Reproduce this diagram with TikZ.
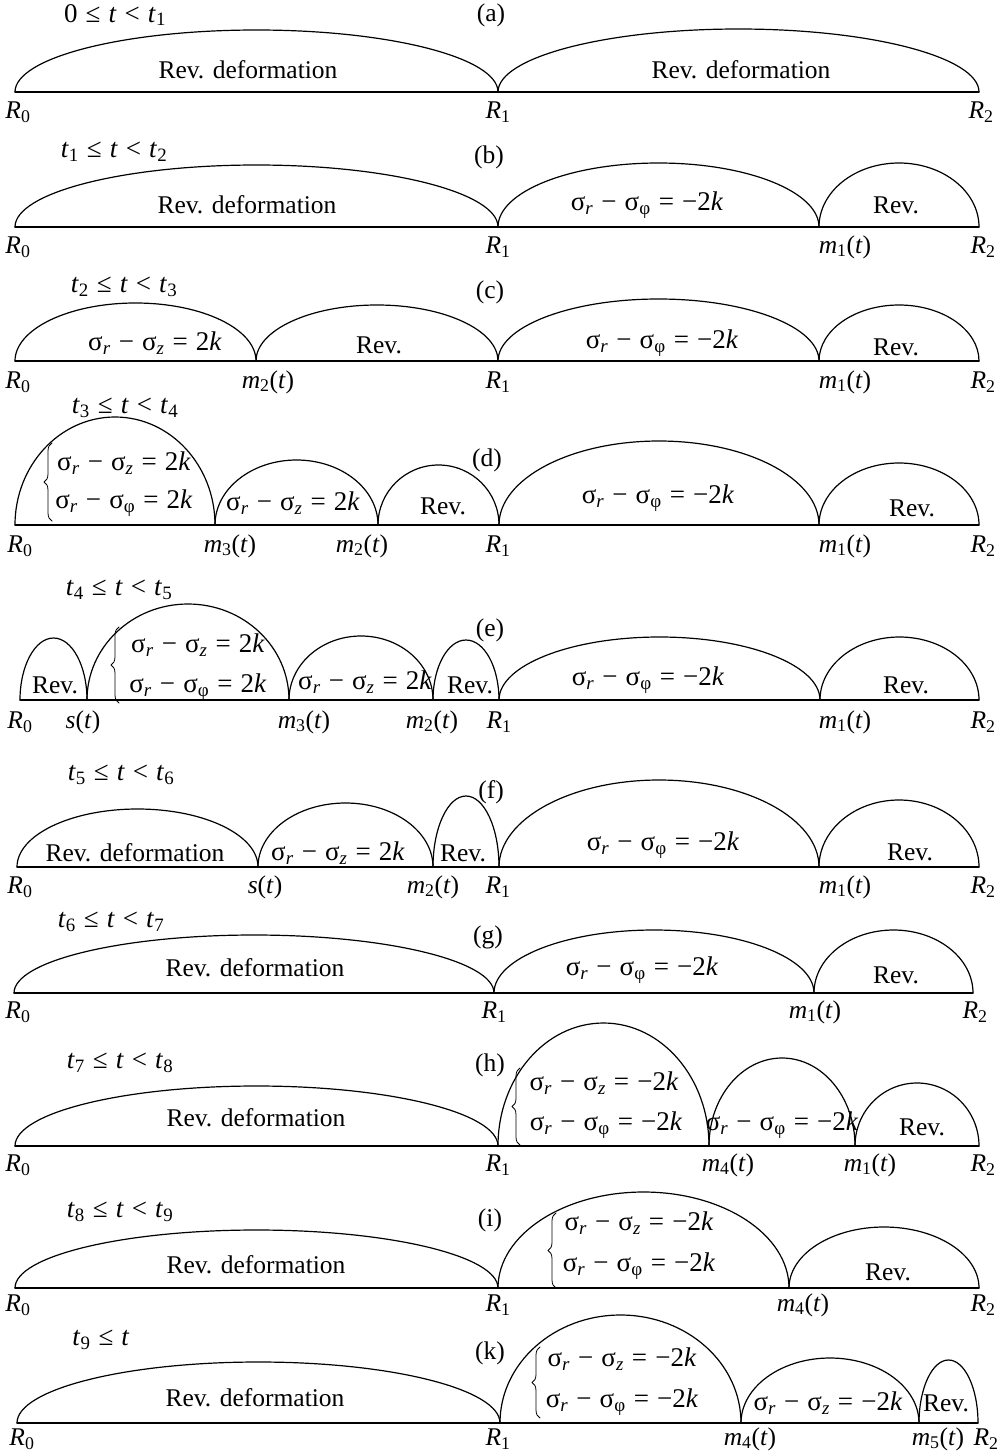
\documentclass[tikz,border=0pt]{standalone}
\usepackage{fontspec}
\setmainfont{Liberation Serif}
\usetikzlibrary{decorations.pathreplacing}

\newcommand{\gapsp}{\hspace{0.3em}}
\newcommand{\Rpt}[1]{\textit{R}\textsubscript{#1}}
\newcommand{\mpt}[1]{\textit{m}\textsubscript{#1}(\textit{t})}
\newcommand{\spt}{\textit{s}(\textit{t})}
\newcommand{\tsub}[1]{\textit{t}\textsubscript{#1}}
\newcommand{\sgm}[1]{σ\textsubscript{#1}}
\newcommand{\rz}[1]{\sgm{\textit{r}}\gapsp−\gapsp\sgm{\textit{z}}\gapsp=\gapsp#1\textit{k}}
\newcommand{\rphi}[1]{\sgm{\textit{r}}\gapsp−\gapsp\sgm{φ}\gapsp=\gapsp#1\textit{k}}
\newcommand{\tint}[2]{\tsub{#1}\gapsp≤\gapsp\textit{t}\gapsp<\gapsp\tsub{#2}}

\tikzset{
  arch/.style={line width=1.2pt},
  brace/.style={decorate, decoration={brace, amplitude=8pt}, line width=0.8pt},
  mth/.style={font=\fontsize{27}{32}\selectfont},
}

\begin{document}
\begin{tikzpicture}[
  x=1pt,
  y=-1pt,
  line cap=round,
  line join=round,
  every node/.style={inner sep=0pt, font=\fontsize{25.5}{30}\selectfont},
]
\useasboundingbox (0,0) rectangle (1005,1452);

% (a)
\draw[arch] (15,92) -- (979,92);
\foreach \xa/\xb/\ht in {15/498/62, 498/979/63}
  \draw[arch] (\xa,92) arc[start angle=180, end angle=0, x radius={(\xb-\xa)*0.5pt}, y radius={\ht*1pt}];
\node[mth] (atime) at (115,15) {0\gapsp≤\gapsp\textit{t}\gapsp<\gapsp\tsub{1}};
\node (atag) at (491,15) {(a)};
\node (arev1) at (248,70) {Rev. deformation};
\node (arev2) at (741,70) {Rev. deformation};
\node (aR0) at (18,112) {\Rpt{0}};
\node (aR1) at (498,112) {\Rpt{1}};
\node (aR2) at (981,112) {\Rpt{2}};

% (b)
\draw[arch] (15,227) -- (979,227);
\foreach \xa/\xb/\ht in {15/498/62, 498/819/64, 819/979/64}
  \draw[arch] (\xa,227) arc[start angle=180, end angle=0, x radius={(\xb-\xa)*0.5pt}, y radius={\ht*1pt}];
\node[mth] (btime) at (114,152) {\tint{1}{2}};
\node (btag) at (489,157) {(b)};
\node (brev1) at (247,205) {Rev. deformation};
\node[mth] (bphi) at (647,205) {\rphi{−2}};
\node (brev2) at (896,205) {Rev.};
\node (bR0) at (18,247) {\Rpt{0}};
\node (bR1) at (498,247) {\Rpt{1}};
\node (bm1) at (845,247) {\mpt{1}};
\node (bR2) at (983,247) {\Rpt{2}};

% (c)
\draw[arch] (15,361) -- (979,361);
\foreach \xa/\xb/\ht in {15/256/58, 256/498/56, 498/819/62, 819/979/56}
  \draw[arch] (\xa,361) arc[start angle=180, end angle=0, x radius={(\xb-\xa)*0.5pt}, y radius={\ht*1pt}];
\node[mth] (ctime) at (124,287) {\tint{2}{3}};
\node (ctag) at (490,292) {(c)};
\node[mth] (cz) at (155,343) {\rz{2}};
\node (crev1) at (379,345) {Rev.};
\node[mth] (cphi) at (662,343) {\rphi{−2}};
\node (crev2) at (896,347) {Rev.};
\node (cR0) at (18,382) {\Rpt{0}};
\node (cm2) at (268,382) {\mpt{2}};
\node (cR1) at (498,382) {\Rpt{1}};
\node (cm1) at (845,382) {\mpt{1}};
\node (cR2) at (983,382) {\Rpt{2}};

% (d)
\draw[arch] (15,525) -- (979,525);
\foreach \xa/\xb/\ht in {15/215/108, 215/378/65, 378/499/60, 499/819/84, 819/979/62}
  \draw[arch] (\xa,525) arc[start angle=180, end angle=0, x radius={(\xb-\xa)*0.5pt}, y radius={\ht*1pt}];
\draw[brace] (52,521) -- (52,443);
\node[mth] (dtime) at (125,408) {\tint{3}{4}};
\node (dtag) at (487,460) {(d)};
\node[mth] (dz1) at (124,463) {\rz{2}};
\node[mth] (dphi1) at (124,503) {\rphi{2}};
\node[mth] (dz2) at (293,503) {\rz{2}};
\node (drev1) at (443,506) {Rev.};
\node[mth] (dphi2) at (658,498) {\rphi{−2}};
\node (drev2) at (912,508) {Rev.};
\node (dR0) at (20,546) {\Rpt{0}};
\node (dm3) at (230,546) {\mpt{3}};
\node (dm2) at (362,546) {\mpt{2}};
\node (dR1) at (498,546) {\Rpt{1}};
\node (dm1) at (845,546) {\mpt{1}};
\node (dR2) at (983,546) {\Rpt{2}};

% (e)
\draw[arch] (20,700) -- (979,700);
\foreach \xa/\xb/\ht in {20/87/62, 87/289/96, 289/433/64, 433/499/60, 499/820/63, 820/979/63}
  \draw[arch] (\xa,700) arc[start angle=180, end angle=0, x radius={(\xb-\xa)*0.5pt}, y radius={\ht*1pt}];
\draw[brace] (119,703) -- (119,627);
\node[mth] (etime) at (119,590) {\tint{4}{5}};
\node (etag) at (490,630) {(e)};
\node (erev1) at (55,685) {Rev.};
\node[mth] (ez1) at (198,645) {\rz{2}};
\node[mth] (ephi1) at (198,687) {\rphi{2}};
\node[mth] (ez2) at (365,682) {\rz{2}};
\node (erev2) at (470,685) {Rev.};
\node[mth] (ephi2) at (648,680) {\rphi{−2}};
\node (erev3) at (906,685) {Rev.};
\node (eR0) at (20,722) {\Rpt{0}};
\node (es) at (83,722) {\spt};
\node (em3) at (304,722) {\mpt{3}};
\node (em2) at (432,722) {\mpt{2}};
\node (eR1) at (499,722) {\Rpt{1}};
\node (em1) at (845,722) {\mpt{1}};
\node (eR2) at (983,722) {\Rpt{2}};

% (f)
\draw[arch] (17,867) -- (979,867);
\foreach \xa/\xb/\ht in {17/258/58, 258/433/64, 433/499/71, 499/819/87, 819/979/67}
  \draw[arch] (\xa,867) arc[start angle=180, end angle=0, x radius={(\xb-\xa)*0.5pt}, y radius={\ht*1pt}];
\node[mth] (ftime) at (121,775) {\tint{5}{6}};
\node (ftag) at (491,792) {(f)};
\node (frev1) at (135,853) {Rev. deformation};
\node[mth] (fz) at (338,853) {\rz{2}};
\node (frev2) at (463,853) {Rev.};
\node[mth] (fphi) at (663,845) {\rphi{−2}};
\node (frev3) at (910,852) {Rev.};
\node (fR0) at (20,887) {\Rpt{0}};
\node (fs) at (265,887) {\spt};
\node (fm2) at (433,887) {\mpt{2}};
\node (fR1) at (498,887) {\Rpt{1}};
\node (fm1) at (845,887) {\mpt{1}};
\node (fR2) at (983,887) {\Rpt{2}};

% (g)
\draw[arch] (14,993) -- (973,993);
\foreach \xa/\xb/\ht in {14/494/58, 494/814/63, 814/973/63}
  \draw[arch] (\xa,993) arc[start angle=180, end angle=0, x radius={(\xb-\xa)*0.5pt}, y radius={\ht*1pt}];
\node[mth] (gtime) at (111,922) {\tint{6}{7}};
\node (gtag) at (488,937) {(g)};
\node (grev1) at (255,968) {Rev. deformation};
\node[mth] (gphi) at (642,970) {\rphi{−2}};
\node (grev2) at (896,975) {Rev.};
\node (gR0) at (18,1012) {\Rpt{0}};
\node (gR1) at (494,1012) {\Rpt{1}};
\node (gm1) at (815,1012) {\mpt{1}};
\node (gR2) at (975,1012) {\Rpt{2}};

% (h)
\draw[arch] (15,1146) -- (979,1146);
\foreach \xa/\xb/\ht in {15/498/60, 498/709/123, 709/855/88, 855/979/63}
  \draw[arch] (\xa,1146) arc[start angle=180, end angle=0, x radius={(\xb-\xa)*0.5pt}, y radius={\ht*1pt}];
\draw[brace] (520,1145) -- (520,1068);
\node[mth] (htime) at (120,1063) {\tint{7}{8}};
\node (htag) at (490,1065) {(h)};
\node (hrev1) at (256,1118) {Rev. deformation};
\node[mth] (hz) at (604,1083) {\rz{−2}};
\node[mth] (hphi1) at (606,1125) {\rphi{−2}};
\node[mth] (hphi2) at (782,1125) {\rphi{−2}};
\node (hrev2) at (922,1127) {Rev.};
\node (hR0) at (18,1165) {\Rpt{0}};
\node (hR1) at (498,1165) {\Rpt{1}};
\node (hm4) at (728,1165) {\mpt{4}};
\node (hm1) at (870,1165) {\mpt{1}};
\node (hR2) at (983,1165) {\Rpt{2}};

% (i)
\draw[arch] (15,1288) -- (979,1288);
\foreach \xa/\xb/\ht in {15/498/58, 498/789/96, 789/979/61}
  \draw[arch] (\xa,1288) arc[start angle=180, end angle=0, x radius={(\xb-\xa)*0.5pt}, y radius={\ht*1pt}];
\draw[brace] (556,1288) -- (556,1213);
\node[mth] (itime) at (120,1212) {\tint{8}{9}};
\node (itag) at (490,1220) {(i)};
\node (irev1) at (256,1265) {Rev. deformation};
\node[mth] (iz) at (639,1223) {\rz{−2}};
\node[mth] (iphi) at (639,1266) {\rphi{−2}};
\node (irev2) at (888,1272) {Rev.};
\node (iR0) at (18,1305) {\Rpt{0}};
\node (iR1) at (498,1305) {\Rpt{1}};
\node (im4) at (803,1305) {\mpt{4}};
\node (iR2) at (983,1305) {\Rpt{2}};

% (k)
\draw[arch] (17,1423) -- (978,1423);
\foreach \xa/\xb/\ht in {17/500/61, 500/741/108, 741/919/65, 919/978/63}
  \draw[arch] (\xa,1423) arc[start angle=180, end angle=0, x radius={(\xb-\xa)*0.5pt}, y radius={\ht*1pt}];
\draw[brace] (540,1418) -- (540,1347);
\node[mth] (ktime) at (101,1340) {\tsub{9}\gapsp≤\gapsp\textit{t}};
\node (ktag) at (490,1353) {(k)};
\node (krev1) at (255,1398) {Rev. deformation};
\node[mth] (kz1) at (622,1359) {\rz{−2}};
\node[mth] (kphi) at (622,1402) {\rphi{−2}};
\node[mth] (kz2) at (828,1403) {\rz{−2}};
\node (krev2) at (946,1403) {Rev.};
\node (kR0) at (22,1439) {\Rpt{0}};
\node (kR1) at (498,1439) {\Rpt{1}};
\node (km4) at (750,1439) {\mpt{4}};
\node (km5) at (938,1439) {\mpt{5}};
\node (kR2) at (986,1439) {\Rpt{2}};

\end{tikzpicture}
\end{document}
